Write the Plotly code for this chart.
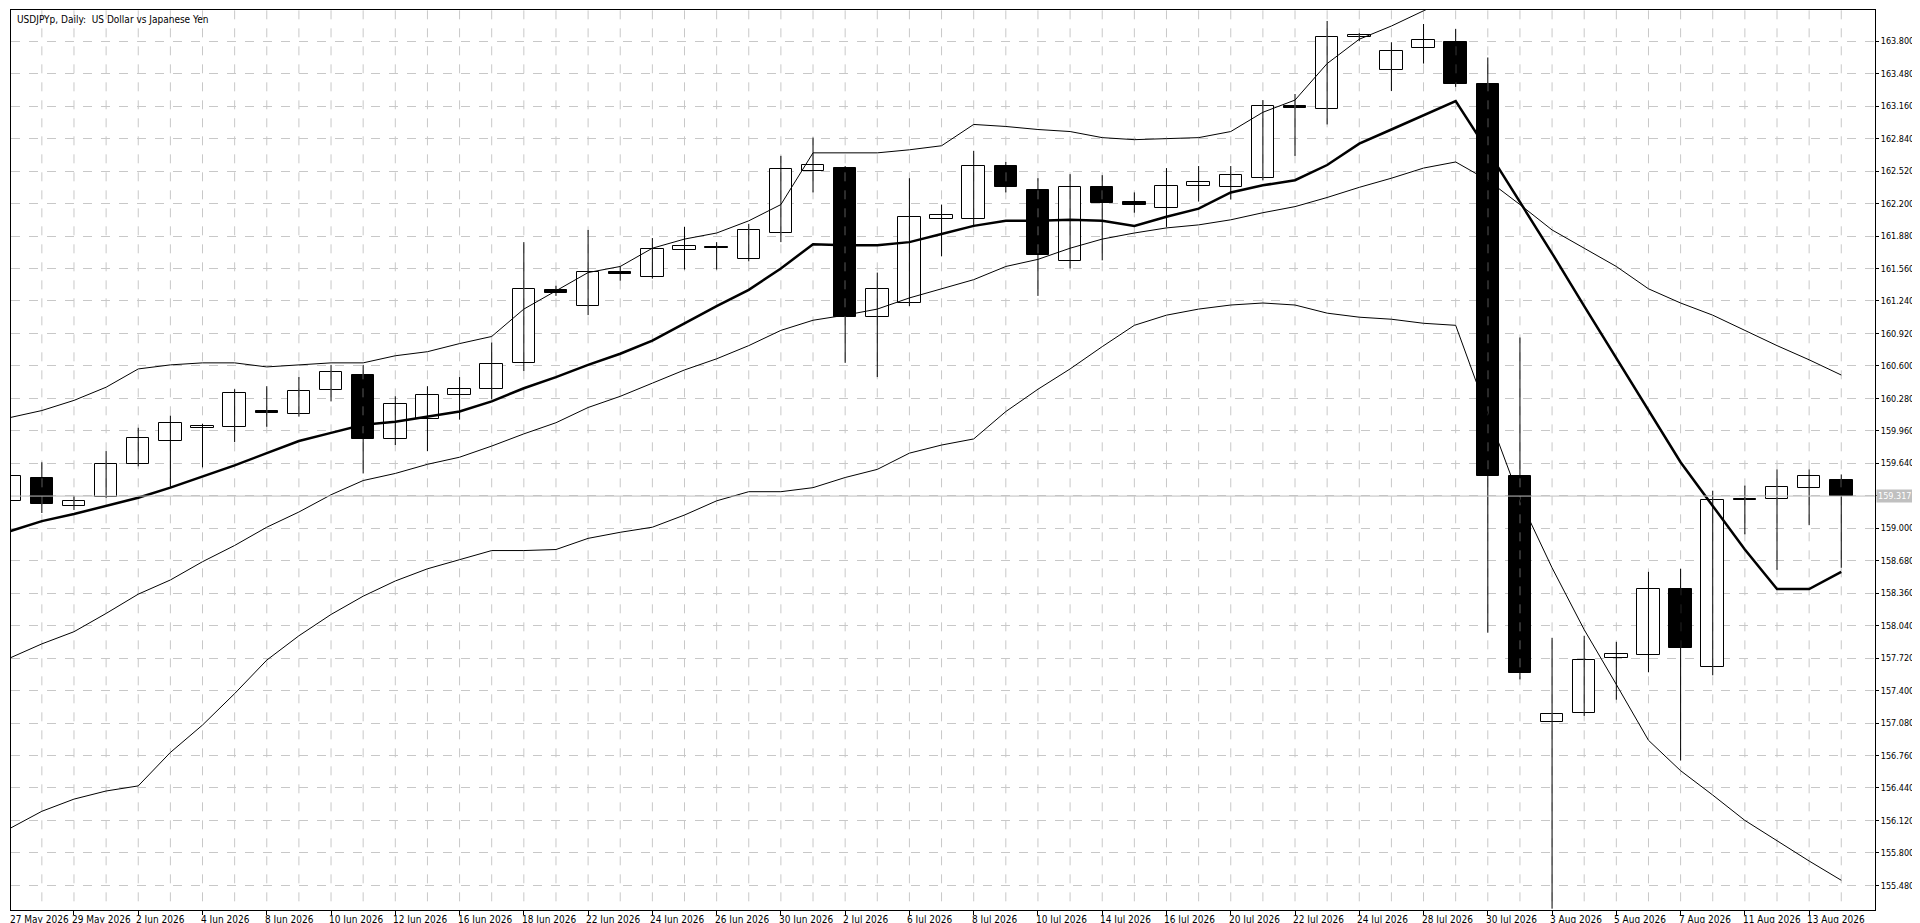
"""USDJPYp daily candles with moving average and bands, MetaTrader style"""

import plotly.graph_objects as go

dates = ["27 May", "28 May", "29 May", "1 Jun", "2 Jun", "3 Jun", "4 Jun", "5 Jun",
         "8 Jun", "9 Jun", "10 Jun", "11 Jun", "12 Jun", "15 Jun", "16 Jun", "17 Jun",
         "18 Jun", "19 Jun", "22 Jun", "23 Jun", "24 Jun", "25 Jun", "26 Jun", "29 Jun",
         "30 Jun", "1 Jul", "2 Jul", "3 Jul", "6 Jul", "7 Jul", "8 Jul", "9 Jul",
         "10 Jul", "13 Jul", "14 Jul", "15 Jul", "16 Jul", "17 Jul", "20 Jul", "21 Jul",
         "22 Jul", "23 Jul", "24 Jul", "27 Jul", "28 Jul", "29 Jul", "30 Jul", "31 Jul",
         "3 Aug", "4 Aug", "5 Aug", "6 Aug", "7 Aug", "10 Aug", "11 Aug", "12 Aug",
         "13 Aug", "14 Aug"]

opens = [159.27, 159.50, 159.22, 159.31, 159.63, 159.86, 159.99, 160.00, 160.15, 160.13,
         160.36, 160.51, 159.88, 160.08, 160.31, 160.37, 160.63, 161.35, 161.19, 161.53,
         161.48, 161.74, 161.77, 161.65, 161.91, 162.52, 162.55, 161.08, 161.22, 162.05,
         162.05, 162.57, 162.33, 161.63, 162.36, 162.22, 162.16, 162.37, 162.36, 162.45,
         163.16, 163.13, 163.84, 163.52, 163.73, 163.79, 163.38, 159.51, 157.09, 157.18,
         157.72, 157.75, 158.40, 157.63, 159.29, 159.29, 159.40, 159.48]
highs = [159.62, 159.65, 159.32, 159.76, 159.99, 160.11, 160.03, 160.37, 160.40, 160.49,
         160.61, 160.61, 160.30, 160.40, 160.49, 160.83, 161.82, 161.39, 161.94, 161.58,
         161.86, 161.97, 161.82, 162.00, 162.67, 162.85, 162.57, 161.52, 162.45, 162.19,
         162.72, 162.61, 162.45, 162.49, 162.48, 162.31, 162.55, 162.57, 162.57, 163.22,
         163.28, 164.00, 163.88, 163.79, 163.97, 163.92, 163.64, 160.88, 157.92, 157.94,
         157.88, 158.57, 158.60, 159.37, 159.42, 159.58, 159.58, 159.53]
lows = [159.20, 159.15, 159.18, 159.30, 159.61, 159.40, 159.60, 159.85, 160.00, 160.10,
        160.25, 159.54, 159.82, 159.76, 160.07, 160.27, 160.55, 161.29, 161.10, 161.44,
        161.46, 161.55, 161.55, 161.63, 161.82, 162.31, 160.63, 160.49, 161.19, 161.68,
        161.97, 162.31, 161.29, 161.56, 161.64, 162.11, 161.97, 162.22, 162.24, 162.43,
        162.67, 162.98, 163.80, 163.31, 163.58, 163.35, 157.97, 157.51, 155.25, 157.15,
        157.31, 157.58, 156.71, 157.55, 158.94, 158.59, 159.03, 158.61]
closes = [159.51, 159.24, 159.27, 159.63, 159.89, 160.04, 160.01, 160.33, 160.14, 160.35,
          160.54, 159.88, 160.22, 160.31, 160.37, 160.62, 161.36, 161.32, 161.53, 161.51,
          161.75, 161.78, 161.76, 161.94, 162.54, 162.58, 161.08, 161.36, 162.07, 162.09,
          162.57, 162.36, 161.69, 162.36, 162.21, 162.19, 162.37, 162.41, 162.48, 163.16,
          163.14, 163.84, 163.86, 163.70, 163.81, 163.38, 159.51, 157.57, 157.17, 157.70,
          157.76, 158.40, 157.82, 159.28, 159.28, 159.41, 159.51, 159.317]

ma_main = [158.97, 159.07, 159.14, 159.22, 159.30, 159.40, 159.51, 159.62, 159.74, 159.86,
           159.94, 160.02, 160.05, 160.10, 160.15, 160.25, 160.38, 160.49, 160.61, 160.72,
           160.85, 161.02, 161.19, 161.35, 161.56, 161.80, 161.79, 161.79, 161.82, 161.90,
           161.98, 162.03, 162.03, 162.04, 162.03, 161.98, 162.07, 162.15, 162.31, 162.38,
           162.43, 162.58, 162.79, 162.93, 163.07, 163.21, 162.72, 162.22, 161.71, 161.19,
           160.68, 160.16, 159.65, 159.22, 158.79, 158.40, 158.40, 158.57]
band_upper = [160.09, 160.16, 160.26, 160.39, 160.57, 160.61, 160.63, 160.63, 160.59, 160.61,
              160.63, 160.63, 160.70, 160.74, 160.82, 160.89, 161.16, 161.34, 161.52, 161.58,
              161.76, 161.85, 161.91, 162.03, 162.19, 162.70, 162.70, 162.70, 162.73, 162.77,
              162.98, 162.96, 162.93, 162.91, 162.85, 162.83, 162.84, 162.85, 162.91, 163.10,
              163.22, 163.58, 163.82, 163.95, 164.10, 164.25, 164.35, 164.45, 164.50, 164.55,
              164.60, 164.62, 164.65, 164.66, 164.66, 164.65, 164.64, 164.62]
band_mid = [157.72, 157.86, 157.98, 158.16, 158.35, 158.49, 158.67, 158.83, 159.01, 159.16,
            159.33, 159.47, 159.54, 159.63, 159.70, 159.81, 159.93, 160.04, 160.19, 160.30,
            160.43, 160.56, 160.67, 160.80, 160.95, 161.05, 161.10, 161.16, 161.27, 161.36,
            161.45, 161.58, 161.65, 161.76, 161.85, 161.91, 161.96, 161.99, 162.04, 162.11,
            162.17, 162.26, 162.36, 162.45, 162.55, 162.61, 162.43, 162.19, 161.94, 161.76,
            161.58, 161.36, 161.22, 161.10, 160.95, 160.80, 160.66, 160.51]
band_lower = [156.04, 156.21, 156.33, 156.41, 156.46, 156.79, 157.06, 157.37, 157.70, 157.94,
              158.15, 158.33, 158.48, 158.60, 158.69, 158.78, 158.78, 158.79, 158.90, 158.96,
              159.01, 159.13, 159.27, 159.36, 159.36, 159.40, 159.50, 159.58, 159.74, 159.82,
              159.88, 160.15, 160.37, 160.57, 160.79, 161.00, 161.10, 161.16, 161.20, 161.22,
              161.20, 161.12, 161.08, 161.06, 161.02, 161.00, 160.13, 159.28, 158.61, 158.00,
              157.46, 156.91, 156.61, 156.37, 156.12, 155.92, 155.72, 155.53]

price_ticks = [155.48, 155.80, 156.12, 156.44, 156.76, 157.08, 157.40, 157.72, 158.04,
               158.36, 158.68, 159.00, 159.32, 159.64, 159.96, 160.28, 160.60, 160.92,
               161.24, 161.56, 161.88, 162.20, 162.52, 162.84, 163.16, 163.48, 163.80]
last_price = 159.317

idx = list(range(len(dates)))
FONT = "DejaVu Sans Condensed, Liberation Sans Narrow, Liberation Sans"

fig = go.Figure()

# vertical grid through every bar (drawn as a trace so it sits under the candles)
gx, gy = [], []
for i in idx:
    gx += [i, i, None]
    gy += [150, 170, None]
fig.add_trace(go.Scatter(x=gx, y=gy, mode="lines",
                         line=dict(color="#c8c8c8", width=1, dash="dash"),
                         hoverinfo="skip", showlegend=False))

# indicator lines
for series, w in [(band_upper, 1), (band_mid, 1), (band_lower, 1), (ma_main, 2.5)]:
    fig.add_trace(go.Scatter(x=idx, y=series, mode="lines",
                             line=dict(color="black", width=w),
                             hoverinfo="skip", showlegend=False))

# wicks
wx, wy = [], []
for i in idx:
    wx += [i, i, None]
    wy += [lows[i], highs[i], None]
fig.add_trace(go.Scatter(x=wx, y=wy, mode="lines",
                         line=dict(color="black", width=1),
                         hoverinfo="skip", showlegend=False))

# bodies
fig.add_trace(go.Bar(
    x=idx,
    base=[min(o, c) for o, c in zip(opens, closes)],
    y=[max(abs(c - o), 0.012) for o, c in zip(opens, closes)],
    width=0.7,
    marker=dict(color=["white" if c >= o else "black" for o, c in zip(opens, closes)],
                line=dict(color="black", width=1)),
    showlegend=False))

fig.add_hline(y=last_price, line=dict(color="#c0c0c0", width=1))

annotations = [dict(text="USDJPYp, Daily:  US Dollar vs Japanese Yen",
                    xref="paper", yref="paper", x=0.002, y=0.998,
                    xanchor="left", yanchor="top", showarrow=False,
                    font=dict(family=FONT, size=10, color="black")),
               dict(text="159.317", xref="paper", yref="y", x=1.0, y=last_price,
                    xanchor="left", yanchor="middle", showarrow=False,
                    bgcolor="#c0c0c0", borderpad=1,
                    font=dict(family=FONT, size=9, color="white"), xshift=1)]
for i in idx[::2]:
    annotations.append(dict(text=dates[i] + " 2026", xref="x", yref="paper",
                            x=max(i, 0.05), y=0, xanchor="left", yanchor="top", yshift=-2,
                            xshift=-4 if i else -3, showarrow=False,
                            font=dict(family=FONT, size=10, color="black")))

fig.update_layout(
    width=1920, height=923,
    margin=dict(l=3, r=53, t=2, b=21),
    paper_bgcolor="white", plot_bgcolor="white",
    bargap=0, annotations=annotations,
    xaxis=dict(range=[0.04, 58.05], tickvals=idx[::2], ticktext=[""] * len(idx[::2]),
               ticks="outside", ticklen=4, tickcolor="black",
               showgrid=False, zeroline=False,
               showline=True, linecolor="black", linewidth=1, mirror=True),
    yaxis=dict(range=[155.237, 164.108], side="right", tickvals=price_ticks,
               ticktext=["%.3f" % t for t in price_ticks],
               ticks="outside", ticklen=3, tickcolor="black",
               tickfont=dict(family=FONT, size=9, color="black"),
               gridcolor="#c8c8c8", griddash="dash", gridwidth=1, zeroline=False,
               showline=True, linecolor="black", linewidth=1, mirror=True),
)

fig.write_html("out.html")
